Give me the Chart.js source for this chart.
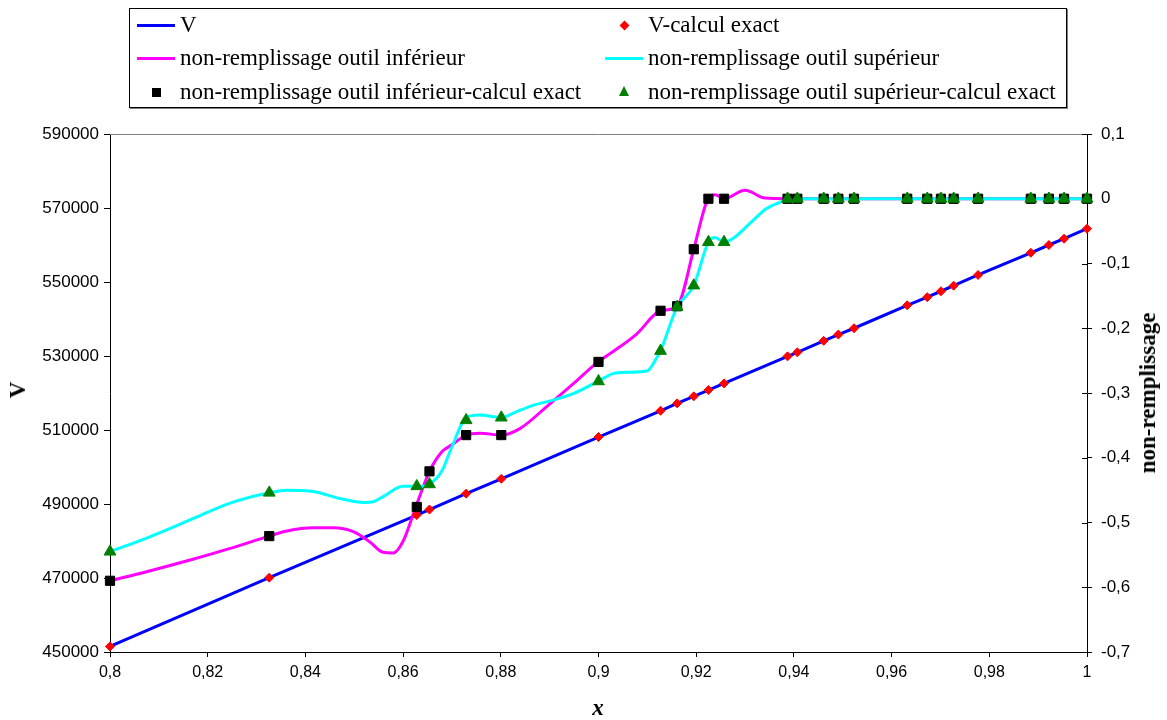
<!DOCTYPE html>
<html>
<head>
<meta charset="utf-8">
<script src="https://cdn.jsdelivr.net/npm/chart.js@4.4.0/dist/chart.umd.min.js"></script>
<style>
  body { margin: 0; background: #fff; }
  #wrap { position: relative; width: 1167px; height: 720px; }
  #legend {
    position: absolute; left: 129px; top: 8px; width: 936px; height: 98px;
    border: 1px solid #000; box-shadow: 1px 1px 0 #808080; background: #fff;
    font-family: "Liberation Serif", "Times New Roman", serif; font-size: 23px; color: #000;
  }
  .item { position: absolute; height: 30px; line-height: 30px; white-space: nowrap; }
  .sym { position: absolute; }
  .title { position: absolute; font-family: "Liberation Serif", "Times New Roman", serif;
           font-weight: bold; font-size: 23px; color: #000; white-space: nowrap; }
</style>
</head>
<body>
<div id="wrap">
  <canvas id="chart" width="1167" height="720"></canvas>
  <div id="legend"></div>
  <div class="title" id="titleV" style="left:18px; top:390px; transform: translate(-50%,-50%) rotate(-90deg);">V</div>
  <div class="title" id="titleNR" style="left:1148px; top:393px; transform: translate(-50%,-50%) rotate(-90deg);">non-remplissage</div>
  <div class="title" id="titleX" style="left:598px; top:708px; transform: translate(-50%,-50%); font-style: italic;">x</div>
</div>
<script>
// points where the exact calculation was done
var xExact = [0.8, 0.8326, 0.8628, 0.8654, 0.8729, 0.8801, 0.9, 0.9127, 0.9161, 0.9195, 0.9225, 0.9257, 0.9387,
              0.9407, 0.9461, 0.9491, 0.9523, 0.9632, 0.9673, 0.9701, 0.9727, 0.9777, 0.9885, 0.9922, 0.9953, 1.0];
var vValues = [451500, 470100, 487000, 488500, 492800, 496800, 508100, 515200, 517200, 519100, 520800, 522600, 529900,
               531000, 534100, 535800, 537500, 543700, 545900, 547500, 549000, 551900, 557900, 560000, 561700, 564400];
var infExact = [-0.590, -0.521, -0.476, -0.421, -0.365, -0.365, -0.252, -0.173, -0.166, -0.078, 0, 0, 0,
                0, 0, 0, 0, 0, 0, 0, 0, 0, 0, 0, 0, 0];
var supExact = [-0.545, -0.454, -0.444, -0.441, -0.342, -0.338, -0.282, -0.235, -0.167, -0.134, -0.067, -0.067, 0,
                0, 0, 0, 0, 0, 0, 0, 0, 0, 0, 0, 0, 0];

// smoothed curves (non-remplissage)
var infX = [0.8, 0.8075, 0.8164, 0.8246, 0.8326, 0.8362, 0.8416, 0.8457, 0.8498, 0.8532, 0.8559, 0.8580, 0.8600,
            0.8626, 0.8654, 0.8679, 0.8700, 0.8729, 0.8757, 0.8801, 0.8839, 0.8894, 0.8948, 0.8999, 0.9030, 0.9078,
            0.9127, 0.9161, 0.9195, 0.9218, 0.9225, 0.9239, 0.9257, 0.9300, 0.9341, 0.9386, 1.0];
var infY = [-0.590, -0.576, -0.558, -0.540, -0.521, -0.513, -0.508, -0.508, -0.514, -0.530, -0.546, -0.547, -0.529,
            -0.476, -0.421, -0.391, -0.380, -0.365, -0.362, -0.365, -0.355, -0.321, -0.286, -0.252, -0.236, -0.209,
            -0.173, -0.166, -0.078, -0.012, 0, 0.006, 0, 0.013, 0.001, 0, 0];
var supX = [0.8, 0.8075, 0.8164, 0.8246, 0.8326, 0.8362, 0.8416, 0.8471, 0.8519, 0.8539, 0.8559, 0.8600, 0.8626,
            0.8641, 0.8654, 0.8679, 0.8700, 0.8729, 0.8757, 0.8801, 0.8826, 0.8866, 0.8907, 0.8948, 0.8999, 0.9030,
            0.9058, 0.9099, 0.9119, 0.9127, 0.9161, 0.9195, 0.9225, 0.9239, 0.9257, 0.9276, 0.9310, 0.9344, 0.9379,
            0.9386, 1.0];
var supY = [-0.545, -0.524, -0.496, -0.470, -0.454, -0.450, -0.452, -0.463, -0.469, -0.468, -0.460, -0.444, -0.444,
            -0.444, -0.441, -0.421, -0.383, -0.338, -0.334, -0.338, -0.331, -0.319, -0.311, -0.301, -0.282, -0.270,
            -0.268, -0.266, -0.246, -0.235, -0.167, -0.134, -0.067, -0.060, -0.067, -0.061, -0.038, -0.015, -0.003,
            0, 0];

var labels = ['V', 'V-calcul exact', 'non-remplissage outil inférieur', 'non-remplissage outil supérieur',
              'non-remplissage outil inférieur-calcul exact', 'non-remplissage outil supérieur-calcul exact'];

function pts(xs, ys) {
    return xs.map(function (x, i) { return { x: x, y: ys[i] }; });
}
function fmt(v) {
    return String(parseFloat(v.toFixed(4))).replace('.', ',');
}

// top border + inward ticks on the right axis
var frame = {
    id: 'frame',
    beforeDatasetsDraw: function (chart) {
        var ctx = chart.ctx, a = chart.chartArea;
        ctx.save();
        ctx.strokeStyle = '#808080';
        ctx.lineWidth = 1;
        ctx.beginPath();
        ctx.moveTo(a.left, a.top + 0.5);
        ctx.lineTo(a.right, a.top + 0.5);
        ctx.stroke();
        ctx.strokeStyle = '#000';
        var s = chart.scales.y1;
        s.ticks.forEach(function (t) {
            var y = Math.round(s.getPixelForValue(t.value)) + 0.5;
            ctx.beginPath();
            ctx.moveTo(a.right - 5, y);
            ctx.lineTo(a.right, y);
            ctx.stroke();
        });
        ctx.restore();
    }
};

var xFont = { family: '"Liberation Sans", Arial, sans-serif', size: 16 };
var yFont = { family: '"Liberation Sans", Arial, sans-serif', size: 17 };

var chart = new Chart(document.getElementById('chart'), {
    type: 'scatter',
    data: {
        datasets: [
            {
                label: labels[0], data: pts(xExact, vValues), yAxisID: 'y', showLine: true,
                borderColor: '#0000FF', borderWidth: 3, pointRadius: 0, tension: 0, order: 5, clip: false
            },
            {
                label: labels[1], data: pts(xExact, vValues), yAxisID: 'y', showLine: false,
                pointStyle: 'rectRot', pointRadius: 4.5, backgroundColor: '#FF0000', borderColor: '#FF0000',
                borderWidth: 1, order: 2, clip: false
            },
            {
                label: labels[2], data: pts(infX, infY), yAxisID: 'y1', showLine: true,
                borderColor: '#FF00FF', borderWidth: 3, pointRadius: 0, cubicInterpolationMode: 'monotone',
                order: 4, clip: false
            },
            {
                label: labels[3], data: pts(supX, supY), yAxisID: 'y1', showLine: true,
                borderColor: '#00FFFF', borderWidth: 3, pointRadius: 0, cubicInterpolationMode: 'monotone',
                order: 3, clip: false
            },
            {
                label: labels[4], data: pts(xExact, infExact), yAxisID: 'y1', showLine: false,
                pointStyle: 'rect', pointRadius: 6.5, backgroundColor: '#000000', borderColor: '#000000',
                borderWidth: 1, order: 1, clip: false
            },
            {
                label: labels[5], data: pts(xExact, supExact), yAxisID: 'y1', showLine: false,
                pointStyle: 'triangle', pointRadius: 6.8, backgroundColor: '#008000', borderColor: '#008000',
                borderWidth: 1, order: 0, clip: false
            }
        ]
    },
    options: {
        responsive: false,
        animation: false,
        events: [],
        layout: { padding: { top: 134, left: 0, right: 0, bottom: 0 } },
        plugins: { legend: { display: false }, tooltip: { enabled: false } },
        scales: {
            x: {
                type: 'linear', min: 0.8, max: 1, position: 'bottom',
                ticks: { stepSize: 0.02, color: '#000', font: xFont, padding: 6, maxRotation: 0,
                         callback: function (v) { return fmt(v); } },
                grid: { drawOnChartArea: false, tickLength: 5, color: '#000' },
                border: { color: '#000', width: 1 },
                afterFit: function (s) { s.height = 68; }
            },
            y: {
                type: 'linear', min: 450000, max: 590000, position: 'left',
                ticks: { stepSize: 20000, color: '#000', font: yFont, padding: 5,
                         callback: function (v) { return String(v); } },
                grid: { drawOnChartArea: false, tickLength: 6, color: '#000' },
                border: { color: '#000', width: 1 },
                afterFit: function (s) { s.width = 110; }
            },
            y1: {
                type: 'linear', min: -0.7, max: 0.1, position: 'right',
                ticks: { stepSize: 0.1, color: '#000', font: yFont, padding: 9,
                         callback: function (v) { return fmt(v); } },
                grid: { drawOnChartArea: false, tickLength: 5, color: '#000' },
                border: { color: '#000', width: 1 },
                afterFit: function (s) { s.width = 80; }
            }
        }
    },
    plugins: [frame]
});

// legend in two columns, built from the datasets
var legendBox = document.getElementById('legend');
var rowsY = [16, 49, 83];
var colSym = [7, 475];
var colText = [50, 518];
chart.data.datasets.forEach(function (ds, i) {
    var row = Math.floor(i / 2), col = i % 2;
    var sym = document.createElement('div');
    sym.className = 'sym';
    var cx = colSym[col] + 19, cy = rowsY[row];
    if (ds.showLine) {
        sym.style.cssText = 'left:' + colSym[col] + 'px; top:' + (cy - 1.5) + 'px; width:38px; height:3px; background:' + ds.borderColor + ';';
    } else if (ds.pointStyle === 'rectRot') {
        sym.style.cssText = 'left:' + (cx - 3.5) + 'px; top:' + (cy - 3.5) + 'px; width:7px; height:7px; background:' + ds.backgroundColor + '; transform: rotate(45deg);';
    } else if (ds.pointStyle === 'rect') {
        sym.style.cssText = 'left:' + (cx - 4.5) + 'px; top:' + (cy - 4.5) + 'px; width:9px; height:9px; background:' + ds.backgroundColor + ';';
    } else {
        sym.style.cssText = 'left:' + (cx - 5.5) + 'px; top:' + (cy - 6) + 'px; width:0; height:0; border-left:5.5px solid transparent; border-right:5.5px solid transparent; border-bottom:10px solid ' + ds.backgroundColor + ';';
    }
    legendBox.appendChild(sym);
    var txt = document.createElement('div');
    txt.className = 'item';
    txt.style.left = colText[col] + 'px';
    txt.style.top = (cy - 15) + 'px';
    txt.textContent = ds.label;
    legendBox.appendChild(txt);
});
</script>
</body>
</html>
